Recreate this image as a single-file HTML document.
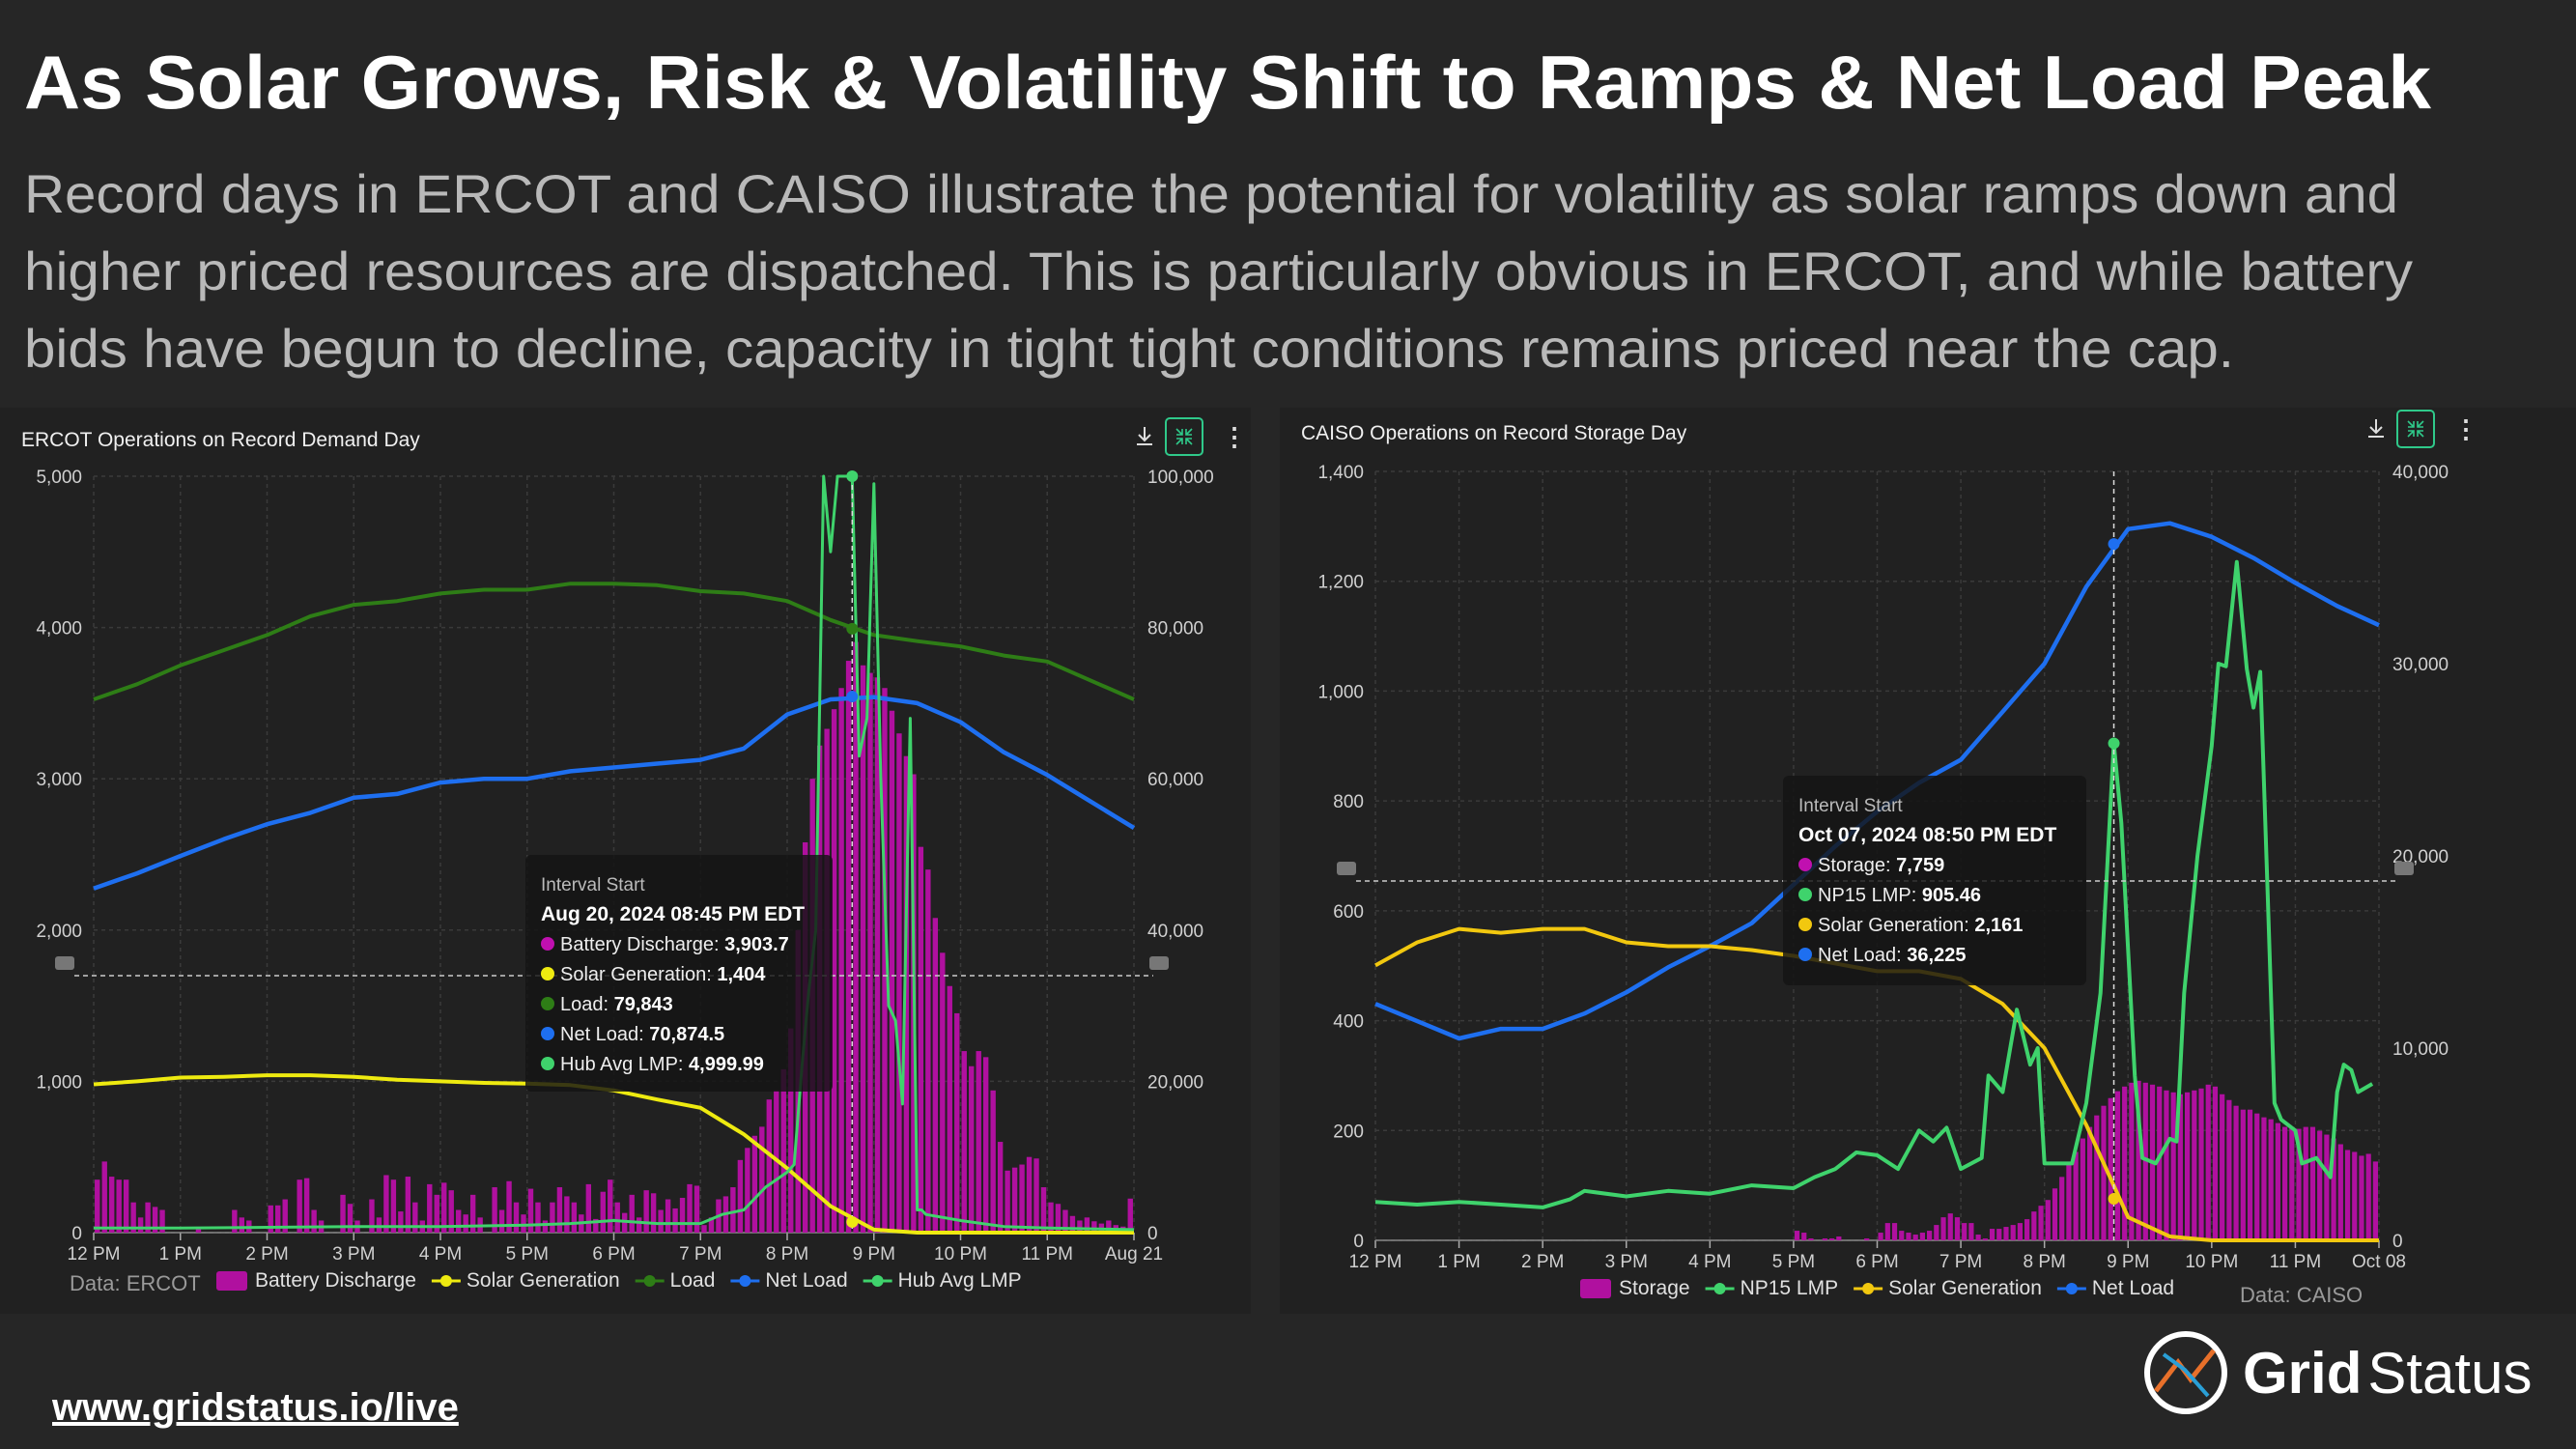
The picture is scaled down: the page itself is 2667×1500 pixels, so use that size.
<!DOCTYPE html>
<html><head><meta charset="utf-8"><style>
html,body{margin:0;padding:0;background:#262626;}
svg{display:block;font-family:"Liberation Sans",sans-serif;}
</style></head><body>
<svg id="root" width="2667" height="1500" viewBox="0 0 2667 1500" xmlns="http://www.w3.org/2000/svg">
<rect width="2667" height="1500" fill="#262626"/>
<text x="25" y="112" font-size="78" font-weight="bold" fill="#ffffff" textLength="2492" lengthAdjust="spacingAndGlyphs">As Solar Grows, Risk &amp; Volatility Shift to Ramps &amp; Net Load Peak</text>
<g fill="#b9b9b9" font-size="56">
<text x="25" y="220" textLength="2458" lengthAdjust="spacingAndGlyphs">Record days in ERCOT and CAISO illustrate the potential for volatility as solar ramps down and</text>
<text x="25" y="300" textLength="2473" lengthAdjust="spacingAndGlyphs">higher priced resources are dispatched. This is particularly obvious in ERCOT, and while battery</text>
<text x="25" y="380" textLength="2288" lengthAdjust="spacingAndGlyphs">bids have begun to decline, capacity in tight tight conditions remains priced near the cap.</text>
</g>
<rect x="0" y="422" width="1295" height="938" fill="#212121"/>
<rect x="1325" y="422" width="1342" height="938" fill="#212121"/>
<g id="ercot"></g>
<g id="caiso"></g>
<text x="54" y="1470" font-size="40" font-weight="bold" fill="#ffffff" text-decoration="underline">www.gridstatus.io/live</text>
<g>
<circle cx="2263" cy="1421" r="40" fill="none" stroke="#ffffff" stroke-width="6"/>
<path d="M2232 1440 L2255 1410 L2268 1428 L2292 1398" stroke="#e8702a" stroke-width="5" fill="none"/>
<path d="M2240 1402 L2262 1418 L2286 1445" stroke="#2a9fd6" stroke-width="4" fill="none"/>
<text x="2322" y="1442" font-size="60" fill="#ffffff"><tspan font-weight="bold">Grid</tspan><tspan dx="6">Status</tspan></text>
</g>
</svg>
<script>
// ===== ERCOT data =====
const ercotTimes = [0,0.5,1,1.5,2,2.5,3,3.5,4,4.5,5,5.5,6,6.5,7,7.5,8,8.5,9,9.5,10,10.5,11,11.5,12];
const ercotLoad = [70500,72500,75000,77000,79000,81500,83000,83500,84500,85000,85000,85800,85800,85600,84800,84500,83500,81000,79000,78200,77500,76300,75500,73000,70500];
const ercotNetLoad = [45500,47500,49800,52000,54000,55500,57500,58000,59500,60000,60000,61000,61500,62000,62500,64000,68500,70500,70800,70000,67500,63500,60500,57000,53500];
const ercotSolar = [19600,20000,20500,20600,20800,20800,20600,20200,20000,19800,19700,19500,18800,17600,16500,13000,8500,3500,400,0,0,0,0,0,0];
const ercotLmpTimes = [0,1,2,3,4,5,5.5,6,6.5,7,7.25,7.5,7.75,8,8.08,8.17,8.25,8.33,8.42,8.5,8.58,8.67,8.75,8.83,8.92,9,9.08,9.17,9.25,9.33,9.42,9.5,9.55,9.6,10,10.5,11,12];
const ercotLmp = [30,30,35,40,40,50,60,80,60,60,120,150,300,400,450,1100,1600,2000,5000,4500,5000,5000,5000,3150,3400,4950,3000,1500,1400,850,3400,150,150,120,80,40,30,20];
const ercotBattery = [
350,470,370,350,350,200,100,200,170,150,0,0,
0,0,30,0,0,0,0,150,100,80,0,0,
180,180,220,0,350,360,150,80,0,0,250,190,
80,0,220,100,380,350,140,370,200,80,320,250,
330,280,150,120,250,100,0,300,150,340,200,120,
290,200,80,200,300,240,200,120,320,90,270,350,
200,130,250,100,280,260,150,220,160,230,320,310,
50,100,220,240,300,480,560,640,700,880,940,1080,
1350,2000,2580,3000,3220,3330,3460,3600,3780,3904,3750,3700,
3670,3600,3450,3300,3150,3030,2550,2400,2080,1850,1630,1450,
1200,1100,1200,1160,940,600,410,430,450,500,490,300,
200,190,150,110,80,100,75,60,80,50,40,225];
const ercotXLabels = ["12 PM","1 PM","2 PM","3 PM","4 PM","5 PM","6 PM","7 PM","8 PM","9 PM","10 PM","11 PM","Aug 21"];
const ercotLeftTicks = [0,1000,2000,3000,4000,5000];
const ercotRightTicks = [0,20000,40000,60000,80000,100000];

// ===== CAISO data =====
const caisoTimes = [0,0.5,1,1.5,2,2.5,3,3.5,4,4.5,5,5.5,6,6.5,7,7.5,8,8.5,9,9.5,10,10.5,11,11.5,12];
const caisoNetLoad = [12300,11400,10500,11000,11000,11800,12900,14200,15300,16500,18500,20500,22300,23800,25000,27500,30000,34000,37000,37300,36600,35500,34200,33000,32000];
const caisoSolar = [14300,15500,16200,16000,16200,16200,15500,15300,15300,15100,14800,14400,14000,14000,13600,12300,10000,6000,1200,200,0,0,0,0,0];
const caisoLmpTimes = [0,0.5,1,1.5,2,2.33,2.5,3,3.5,4,4.5,5,5.25,5.5,5.75,6,6.25,6.5,6.67,6.83,7,7.25,7.33,7.5,7.67,7.83,7.92,8,8.33,8.5,8.67,8.83,8.92,9.08,9.17,9.33,9.5,9.58,9.67,9.83,10,10.08,10.17,10.3,10.42,10.5,10.58,10.67,10.75,10.83,11,11.08,11.25,11.42,11.5,11.58,11.67,11.75,11.92];
const caisoLmp = [70,65,70,65,60,75,90,80,90,85,100,95,115,130,160,155,130,200,180,205,130,150,300,270,420,320,350,140,140,250,450,905,760,300,150,140,185,180,450,700,900,1050,1045,1235,1040,970,1035,630,250,220,200,140,150,115,270,320,310,270,285];
const caisoStorage = [
0,0,0,0,0,0,0,0,0,0,0,0,
0,0,0,0,0,0,0,0,0,0,0,0,
0,0,0,0,0,0,0,0,0,0,0,0,
0,0,0,0,0,0,0,0,0,0,0,0,
0,0,0,0,0,0,0,0,0,0,0,0,
500,400,100,0,100,100,200,0,0,0,100,0,
400,900,900,500,400,300,400,500,800,1200,1400,1200,
900,900,300,100,600,600,700,800,900,1100,1500,1800,
2100,2700,3300,4000,4600,5300,5900,6500,7000,7400,7759,8000,
8200,8300,8200,8100,8000,7800,7700,7600,7700,7800,7900,8100,
8000,7600,7300,7000,6800,6800,6600,6400,6300,6100,5900,5900,
5800,5900,5900,5700,5500,5300,5000,4700,4600,4400,4500,4100];
const caisoXLabels = ["12 PM","1 PM","2 PM","3 PM","4 PM","5 PM","6 PM","7 PM","8 PM","9 PM","10 PM","11 PM","Oct 08"];
const caisoLeftTicks = [0,200,400,600,800,1000,1200,1400];
const caisoRightTicks = [0,10000,20000,30000,40000];

const NS = "http://www.w3.org/2000/svg";
function mk(parent, tag, attrs, text){
  const e = document.createElementNS(NS, tag);
  for (const k in attrs) e.setAttribute(k, attrs[k]);
  if (text !== undefined) e.textContent = text;
  parent.appendChild(e);
  return e;
}
function fmt(v){ return v.toLocaleString("en-US"); }
function pathFrom(ts, vs, xf, yf){
  let d = "";
  for (let i=0;i<ts.length;i++) d += (i? "L":"M") + xf(ts[i]).toFixed(1) + " " + yf(vs[i]).toFixed(1);
  return d;
}

function drawChart(cfg){
  const g = document.getElementById(cfg.id);
  const X = t => cfg.x0 + t/12*(cfg.x1-cfg.x0);
  const YL = v => cfg.y0 - v/cfg.lmax*(cfg.y0-cfg.y1);
  const YR = v => cfg.y0 - v/cfg.rmax*(cfg.y0-cfg.y1);

  const t = mk(g,"text",{x:cfg.titleX,y:cfg.titleY,"font-size":21,fill:"#f0f0f0"},cfg.title);
  
  

  const dl = mk(g,"path",{d:`M${cfg.iconX} ${cfg.iconY-10}v14m-6 -6l6 6l6 -6M${cfg.iconX-8} ${cfg.iconY+8}h16`,stroke:"#ddd","stroke-width":2,fill:"none"});
  
  
  const fs = mk(g,"rect",{x:cfg.iconX+22,y:cfg.iconY-19,width:38,height:38,rx:4,fill:"none",stroke:"#2fc98a","stroke-width":2});
  
  
  mk(g,"path",{d:`M${cfg.iconX+33} ${cfg.iconY-8}l6 6m0 -6v6h-6M${cfg.iconX+49} ${cfg.iconY-8}l-6 6m0 -6v6h6M${cfg.iconX+33} ${cfg.iconY+8}l6 -6m0 6v-6h-6M${cfg.iconX+49} ${cfg.iconY+8}l-6 -6m0 6v-6h6`,stroke:"#2fc98a","stroke-width":1.6,fill:"none"});
  const mn = mk(g,"text",{x:cfg.iconX+80,y:cfg.iconY+9,"font-size":26,fill:"#ddd","font-weight":"bold"},"⋮");
  
  

  cfg.leftTicks.forEach((v,i)=>{
    const y = YL(v);
    mk(g,"line",{x1:cfg.x0,x2:cfg.x1,y1:y,y2:y,stroke:"#3a3a3a","stroke-dasharray":"4 4","stroke-width":1.5});
    const l = mk(g,"text",{x:cfg.x0-12,y:y+7,"font-size":19,fill:"#d0d0d0","text-anchor":"end"},fmt(v));
    
    
  });
  cfg.rightTicks.forEach(v=>{
    const y = YR(v);
    const l = mk(g,"text",{x:cfg.x1+14,y:y+7,"font-size":19,fill:"#d0d0d0"},fmt(v));
    
    
  });
  cfg.xLabels.forEach((s,i)=>{
    const x = X(i);
    mk(g,"line",{x1:x,x2:x,y1:cfg.y1,y2:cfg.y0,stroke:"#3a3a3a","stroke-dasharray":"4 4","stroke-width":1.5});
    mk(g,"line",{x1:x,x2:x,y1:cfg.y0,y2:cfg.y0+8,stroke:"#aaa","stroke-width":1.5});
    const l = mk(g,"text",{x:x,y:cfg.y0+28,"font-size":19,fill:"#d0d0d0","text-anchor":"middle"},s);
    
    
  });
  mk(g,"line",{x1:cfg.x0,x2:cfg.x1,y1:cfg.y0,y2:cfg.y0,stroke:"#888","stroke-width":1.5});

  const bw = (cfg.x1-cfg.x0)/144;
  const BY = cfg.barAxis==="left" ? YL : YR;
  cfg.bars.forEach((v,i)=>{
    if (v<=0) return;
    const x = X((i+0.5)/12);
    const b = mk(g,"rect",{x:x-bw*0.36,y:BY(v),width:bw*0.72,height:cfg.y0-BY(v),fill:"#b0109f"});
    
    
  });

  cfg.lines.forEach(L=>{
    const yf = L.axis==="left" ? YL : YR;
    const p = mk(g,"path",{d:pathFrom(L.t,L.v,X,yf),stroke:L.color,"stroke-width":L.w,fill:"none","stroke-linejoin":"round"});
    
    
  });

  const hx = X(cfg.hoverT);
  mk(g,"line",{x1:hx,x2:hx,y1:cfg.y1,y2:cfg.y0,stroke:"#ddd","stroke-dasharray":"5 4","stroke-width":1.5});
  mk(g,"line",{x1:cfg.x0-20,x2:cfg.x1+20,y1:cfg.hy,y2:cfg.hy,stroke:"#ccc","stroke-dasharray":"5 4","stroke-width":1.5});
  mk(g,"rect",{x:cfg.x0-40,y:cfg.hy-20,width:20,height:14,rx:3,fill:"#777"});
  mk(g,"rect",{x:cfg.x1+16,y:cfg.hy-20,width:20,height:14,rx:3,fill:"#777"});
  cfg.dots.forEach(d=>{
    const yf = d.axis==="left" ? YL : YR;
    mk(g,"circle",{cx:hx,cy:yf(d.v),r:6,fill:d.color});
  });

  const tt = mk(g,"g",{});
  
  
  mk(tt,"rect",{x:cfg.tt.x,y:cfg.tt.y,width:cfg.tt.w,height:cfg.tt.h,rx:6,fill:"#141414","fill-opacity":0.82});
  mk(tt,"text",{x:cfg.tt.x+16,y:cfg.tt.y+37,"font-size":19,fill:"#bbb"},"Interval Start");
  mk(tt,"text",{x:cfg.tt.x+16,y:cfg.tt.y+68,"font-size":21,fill:"#fff","font-weight":"bold"},cfg.tt.head);
  cfg.tt.rows.forEach((r,i)=>{
    const y = cfg.tt.y+99+i*31;
    mk(tt,"circle",{cx:cfg.tt.x+23,cy:y-7,r:7,fill:r[0]});
    const tx = mk(tt,"text",{x:cfg.tt.x+36,y:y,"font-size":20,fill:"#eee"},r[1]+": ");
    mk(tx,"tspan",{"font-weight":"bold",fill:"#fff"},r[2]);
  });

  const lg = mk(g,"g",{});
  
  
  let lx = cfg.legX;
  cfg.legend.forEach(it=>{
    if (it.bar){
      mk(lg,"rect",{x:lx,y:cfg.legY-16,width:32,height:20,rx:3,fill:it.color});
      lx += 40;
    } else {
      mk(lg,"line",{x1:lx,x2:lx+30,y1:cfg.legY-6,y2:cfg.legY-6,stroke:it.color,"stroke-width":3});
      mk(lg,"circle",{cx:lx+15,cy:cfg.legY-6,r:6,fill:it.color});
      lx += 36;
    }
    const e = mk(lg,"text",{x:lx,y:cfg.legY,"font-size":21,fill:"#e0e0e0"},it.label);
    
    
    let w = it.label.length*10.6;
    try { w = e.getComputedTextLength(); } catch(err) {}
    lx += w + 16;
  });
  const src = mk(g,"text",{x:cfg.srcX,y:cfg.srcY,"font-size":22,fill:"#9a9a9a"},cfg.src);
  
  
}

drawChart({
  id:"ercot", title:"ERCOT Operations on Record Demand Day", titleX:22, titleY:462,
  iconX:1185, iconY:452,
  x0:97, x1:1174, y0:1276, y1:493, lmax:5000, rmax:100000,
  leftTicks:ercotLeftTicks, rightTicks:ercotRightTicks, xLabels:ercotXLabels,
  bars:ercotBattery, barAxis:"left",
  lines:[
    {name:"load-line",t:ercotTimes,v:ercotLoad,axis:"right",color:"#2e7d16",w:4},
    {name:"net-load-line",t:ercotTimes,v:ercotNetLoad,axis:"right",color:"#1e6ff0",w:4.5},
    {name:"solar-generation-line",t:ercotTimes,v:ercotSolar,axis:"right",color:"#eeea10",w:4},
    {name:"hub-avg-lmp-line",t:ercotLmpTimes,v:ercotLmp,axis:"left",color:"#3fd36c",w:3}
  ],
  hoverT:8.75, hy:1010,
  dots:[{v:5000,axis:"left",color:"#3fd36c"},{v:70874,axis:"right",color:"#1e6ff0"},{v:79843,axis:"right",color:"#2e7d16"},{v:1404,axis:"right",color:"#eeea10"}],
  tt:{x:544,y:885,w:318,h:245,head:"Aug 20, 2024 08:45 PM EDT",rows:[["#c010b0","Battery Discharge","3,903.7"],["#eeea10","Solar Generation","1,404"],["#2e7d16","Load","79,843"],["#1e6ff0","Net Load","70,874.5"],["#3fd36c","Hub Avg LMP","4,999.99"]]},
  legX:224, legY:1332,
  legend:[{bar:true,color:"#b0109f",label:"Battery Discharge"},{color:"#eeea10",label:"Solar Generation"},{color:"#2e7d16",label:"Load"},{color:"#1e6ff0",label:"Net Load"},{color:"#3fd36c",label:"Hub Avg LMP"}],
  src:"Data: ERCOT", srcX:72, srcY:1336
});

drawChart({
  id:"caiso", title:"CAISO Operations on Record Storage Day", titleX:1347, titleY:455,
  iconX:2460, iconY:444,
  x0:1424, x1:2463, y0:1284, y1:488, lmax:1400, rmax:40000,
  leftTicks:caisoLeftTicks, rightTicks:caisoRightTicks, xLabels:caisoXLabels,
  bars:caisoStorage, barAxis:"right",
  lines:[
    {name:"net-load-line",t:caisoTimes,v:caisoNetLoad,axis:"right",color:"#1e6ff0",w:4.5},
    {name:"solar-generation-line",t:caisoTimes,v:caisoSolar,axis:"right",color:"#f2c80f",w:4},
    {name:"np15-lmp-line",t:caisoLmpTimes,v:caisoLmp,axis:"left",color:"#3fd36c",w:4}
  ],
  hoverT:8.83, hy:912,
  dots:[{v:905,axis:"left",color:"#3fd36c"},{v:36225,axis:"right",color:"#1e6ff0"},{v:2161,axis:"right",color:"#f2c80f"}],
  tt:{x:1846,y:803,w:314,h:217,head:"Oct 07, 2024 08:50 PM EDT",rows:[["#c010b0","Storage","7,759"],["#3fd36c","NP15 LMP","905.46"],["#f2c80f","Solar Generation","2,161"],["#1e6ff0","Net Load","36,225"]]},
  legX:1636, legY:1340,
  legend:[{bar:true,color:"#b0109f",label:"Storage"},{color:"#3fd36c",label:"NP15 LMP"},{color:"#f2c80f",label:"Solar Generation"},{color:"#1e6ff0",label:"Net Load"}],
  src:"Data: CAISO", srcX:2319, srcY:1348
});
</script>
</body></html>
